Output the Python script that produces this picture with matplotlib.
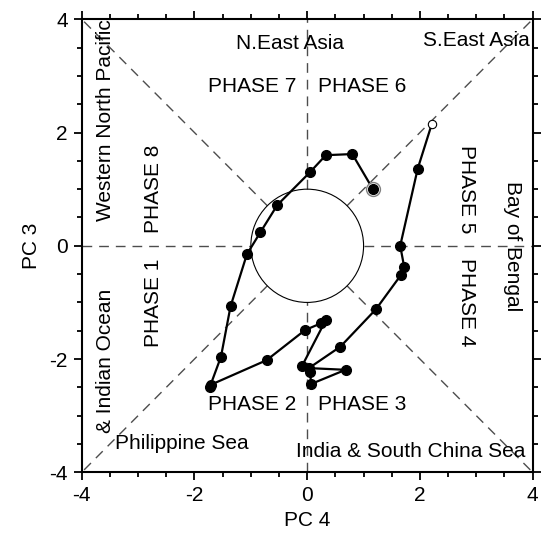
import numpy as np
import matplotlib
matplotlib.use("Agg")
import matplotlib.pyplot as plt
from matplotlib.patches import Circle
from matplotlib.ticker import MultipleLocator

plt.rcParams['font.family'] = ['Liberation Sans', 'DejaVu Sans']

# trajectory (PC4 on x, PC3 on y), in time order
pc4 = [2.21, 1.96, 1.65, 1.72, 1.66, 1.22, 0.59, 0.03, 0.68, 0.07, 0.05, -0.09,
       0.33, 0.24, -0.04, -0.72, -1.70, -1.73, -1.53, -1.36, -1.07, -0.83, -0.53,
       0.05, 0.33, 0.80, 1.16]
pc3 = [2.15, 1.36, 0.00, -0.37, -0.52, -1.12, -1.78, -2.16, -2.19, -2.44, -2.22, -2.12,
       -1.31, -1.37, -1.49, -2.02, -2.45, -2.50, -1.96, -1.07, -0.15, 0.24, 0.72,
       1.30, 1.60, 1.62, 1.01]

ticks = [-4, -2, 0, 2, 4]
tick_labels = ["-4", "-2", "0", "2", "4"]

fig = plt.figure(figsize=(5.43, 5.42), dpi=100)
ax = fig.add_axes([0.1505, 0.1286, 0.8305, 0.8358])
ax.set_xlim(-4, 4)
ax.set_ylim(-4, 4)

# reference lines outside the unit circle
dash = dict(color='0.3', lw=1.0, dashes=(7, 5), zorder=1)
ax.plot([-4, -1], [0, 0], **dash)
ax.plot([1, 4], [0, 0], **dash)
ax.plot([0, 0], [-4, -1], **dash)
ax.plot([0, 0], [1, 4], **dash)
r = 1 / np.sqrt(2)
for sx in (-1, 1):
    for sy in (-1, 1):
        ax.plot([sx * r, sx * 4], [sy * r, sy * 4], **dash)
ax.add_patch(Circle((0, 0), 1, fill=False, ec='black', lw=0.8, zorder=2))

# trajectory
ax.plot(pc4, pc3, color='black', lw=1.6, zorder=3)
ax.plot(pc4[1:-1], pc3[1:-1], 'o', color='black', ms=7, zorder=4)
ax.plot(pc4[0], pc3[0], 'o', mfc='white', mec='black', mew=0.8, ms=6, zorder=5)
ax.plot(pc4[-1], pc3[-1], 'o', mfc='white', mec='0.5', mew=1.0, ms=10, zorder=5)
ax.plot(pc4[-1], pc3[-1], 'o', color='black', ms=7, zorder=6)

fs = 15
ax.text(-0.30, 3.57, "N.East Asia", ha='center', va='center', fontsize=fs)
ax.text(3.00, 3.63, "S.East Asia", ha='center', va='center', fontsize=fs)
ax.text(-0.97, 2.81, "PHASE 7", ha='center', va='center', fontsize=fs)
ax.text(0.97, 2.81, "PHASE 6", ha='center', va='center', fontsize=fs)
ax.text(-0.97, -2.81, "PHASE 2", ha='center', va='center', fontsize=fs)
ax.text(0.97, -2.81, "PHASE 3", ha='center', va='center', fontsize=fs)
ax.text(-2.72, 1.0, "PHASE 8", ha='center', va='center', fontsize=fs, rotation=90)
ax.text(-2.72, -1.0, "PHASE 1", ha='center', va='center', fontsize=fs, rotation=90)
ax.text(2.83, 1.0, "PHASE 5", ha='center', va='center', fontsize=fs, rotation=270)
ax.text(2.83, -1.0, "PHASE 4", ha='center', va='center', fontsize=fs, rotation=270)
ax.text(-3.58, 2.22, "Western North Pacific", ha='center', va='center', fontsize=fs, rotation=90)
ax.text(-3.58, -2.03, "& Indian Ocean", ha='center', va='center', fontsize=fs, rotation=90)
ax.text(3.65, 0.0, "Bay of Bengal", ha='center', va='center', fontsize=fs, rotation=270)
ax.text(-2.23, -3.50, "Philippine Sea", ha='center', va='center', fontsize=fs)
ax.text(1.84, -3.64, "India & South China Sea", ha='center', va='center', fontsize=fs)

ax.set_xticks(ticks)
ax.set_xticklabels(tick_labels)
ax.set_yticks(ticks)
ax.set_yticklabels(tick_labels)
ax.xaxis.set_minor_locator(MultipleLocator(0.5))
ax.yaxis.set_minor_locator(MultipleLocator(0.5))
ax.tick_params(which='both', direction='out', top=True, right=True, width=1.3,
               labelsize=fs, pad=4)
ax.tick_params(which='major', length=6)
ax.tick_params(which='minor', length=3.5)
for s in ax.spines.values():
    s.set_linewidth(1.5)

ax.set_xlabel("PC 4", fontsize=15, labelpad=4)
ax.set_ylabel("PC 3", fontsize=15, labelpad=6)

fig.savefig("out.png", dpi=100)
